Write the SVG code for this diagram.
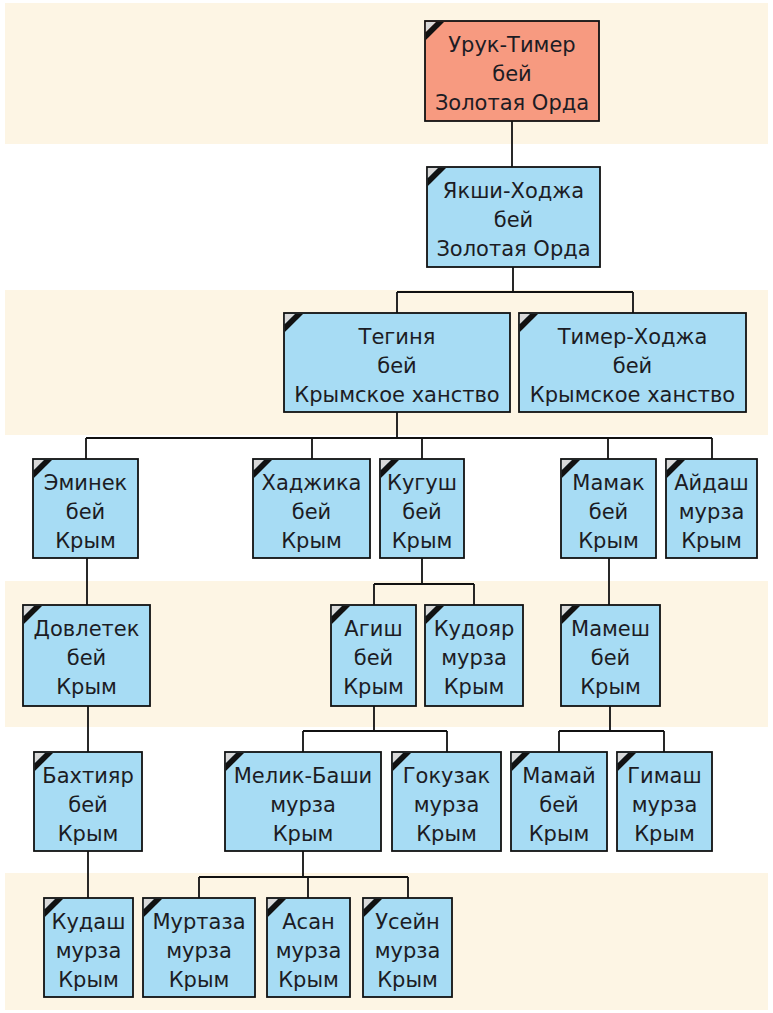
<svg xmlns="http://www.w3.org/2000/svg" width="773" height="1013" viewBox="0 0 773 1013">
<style>
.band{fill:#fdf5e4}
.n rect{fill:#a7dcf4;stroke:#111;stroke-width:1.8}
.n.root rect{fill:#f79a80}
.n text{font-family:"DejaVu Sans","Liberation Sans",sans-serif;font-size:21px;fill:#1c1c24;text-anchor:middle}
.c{fill:none;stroke:#111;stroke-width:1.8}
</style>
<defs>
<g id="mark">
<polygon points="0.9,0.9 11,0.9 0.9,11" fill="#d9d9d9"/>
<polygon points="0.9,11 11,0.9 19,0.9 0.9,19" fill="#111"/>
</g>
</defs>
<rect x="0" y="0" width="773" height="1013" fill="#ffffff"/>
<rect class="band" x="5" y="3" width="763" height="141"/>
<rect class="band" x="5" y="290" width="763" height="145"/>
<rect class="band" x="5" y="581" width="763" height="146"/>
<rect class="band" x="5" y="873" width="763" height="137"/>

<g id="connectors">
<path class="c" d="M512,121V167"/>
<path class="c" d="M513,267V292M397,292H633M397,292V313M633,292V313"/>
<path class="c" d="M397,412V438M86,438H712M86,438V459M312,438V459M422,438V459M608,438V459M712,438V459"/>
<path class="c" d="M87,558V605"/>
<path class="c" d="M422,558V584M374,584H474M374,584V605M474,584V605"/>
<path class="c" d="M609,558V605"/>
<path class="c" d="M88,706V752"/>
<path class="c" d="M374,706V731M303,731H447M303,731V752M447,731V752"/>
<path class="c" d="M610,706V731M559,731H664M559,731V752M664,731V752"/>
<path class="c" d="M88,851V898"/>
<path class="c" d="M303,851V877M199,877H408M199,877V898M308,877V898M408,877V898"/>
</g>

<g id="n-uruk" class="n root"><rect x="425" y="21" width="174" height="100"/><use href="#mark" x="425" y="21"/><text x="512" y="52">Урук-Тимер</text><text x="512" y="81">бей</text><text x="512" y="110">Золотая Орда</text></g>
<g id="n-yakshi" class="n"><rect x="427" y="167" width="173" height="100"/><use href="#mark" x="427" y="167"/><text x="513.5" y="198">Якши-Ходжа</text><text x="513.5" y="227">бей</text><text x="513.5" y="256">Золотая Орда</text></g>
<g id="n-teginya" class="n"><rect x="284" y="313" width="226" height="99"/><use href="#mark" x="284" y="313"/><text x="397" y="344">Тегиня</text><text x="397" y="373">бей</text><text x="397" y="402">Крымское ханство</text></g>
<g id="n-timer" class="n"><rect x="519" y="313" width="227" height="99"/><use href="#mark" x="519" y="313"/><text x="632.5" y="344">Тимер-Ходжа</text><text x="632.5" y="373">бей</text><text x="632.5" y="402">Крымское ханство</text></g>

<g id="n-eminek" class="n"><rect x="33" y="459" width="105" height="99"/><use href="#mark" x="33" y="459"/><text x="85.5" y="490">Эминек</text><text x="85.5" y="519">бей</text><text x="85.5" y="548">Крым</text></g>
<g id="n-hadzhika" class="n"><rect x="253" y="459" width="117" height="99"/><use href="#mark" x="253" y="459"/><text x="311.5" y="490">Хаджика</text><text x="311.5" y="519">бей</text><text x="311.5" y="548">Крым</text></g>
<g id="n-kugush" class="n"><rect x="380" y="459" width="84" height="99"/><use href="#mark" x="380" y="459"/><text x="422" y="490">Кугуш</text><text x="422" y="519">бей</text><text x="422" y="548">Крым</text></g>
<g id="n-mamak" class="n"><rect x="561" y="459" width="95" height="99"/><use href="#mark" x="561" y="459"/><text x="608.5" y="490">Мамак</text><text x="608.5" y="519">бей</text><text x="608.5" y="548">Крым</text></g>
<g id="n-aidash" class="n"><rect x="666" y="459" width="91" height="99"/><use href="#mark" x="666" y="459"/><text x="711.5" y="490">Айдаш</text><text x="711.5" y="519">мурза</text><text x="711.5" y="548">Крым</text></g>

<g id="n-dovletek" class="n"><rect x="23" y="605" width="127" height="101"/><use href="#mark" x="23" y="605"/><text x="86.5" y="636">Довлетек</text><text x="86.5" y="665">бей</text><text x="86.5" y="694">Крым</text></g>
<g id="n-agish" class="n"><rect x="331" y="605" width="85" height="101"/><use href="#mark" x="331" y="605"/><text x="373.5" y="636">Агиш</text><text x="373.5" y="665">бей</text><text x="373.5" y="694">Крым</text></g>
<g id="n-kudoyar" class="n"><rect x="425" y="605" width="98" height="101"/><use href="#mark" x="425" y="605"/><text x="474" y="636">Кудояр</text><text x="474" y="665">мурза</text><text x="474" y="694">Крым</text></g>
<g id="n-mamesh" class="n"><rect x="561" y="605" width="99" height="101"/><use href="#mark" x="561" y="605"/><text x="610.5" y="636">Мамеш</text><text x="610.5" y="665">бей</text><text x="610.5" y="694">Крым</text></g>

<g id="n-bahtiyar" class="n"><rect x="34" y="752" width="108" height="99"/><use href="#mark" x="34" y="752"/><text x="88" y="783">Бахтияр</text><text x="88" y="812">бей</text><text x="88" y="841">Крым</text></g>
<g id="n-melik" class="n"><rect x="225" y="752" width="156" height="99"/><use href="#mark" x="225" y="752"/><text x="303" y="783">Мелик-Баши</text><text x="303" y="812">мурза</text><text x="303" y="841">Крым</text></g>
<g id="n-gokuzak" class="n"><rect x="392" y="752" width="109" height="99"/><use href="#mark" x="392" y="752"/><text x="446.5" y="783">Гокузак</text><text x="446.5" y="812">мурза</text><text x="446.5" y="841">Крым</text></g>
<g id="n-mamai" class="n"><rect x="511" y="752" width="96" height="99"/><use href="#mark" x="511" y="752"/><text x="559" y="783">Мамай</text><text x="559" y="812">бей</text><text x="559" y="841">Крым</text></g>
<g id="n-gimash" class="n"><rect x="617" y="752" width="95" height="99"/><use href="#mark" x="617" y="752"/><text x="664.5" y="783">Гимаш</text><text x="664.5" y="812">мурза</text><text x="664.5" y="841">Крым</text></g>

<g id="n-kudash" class="n"><rect x="44" y="898" width="89" height="99"/><use href="#mark" x="44" y="898"/><text x="88.5" y="929">Кудаш</text><text x="88.5" y="958">мурза</text><text x="88.5" y="987">Крым</text></g>
<g id="n-murtaza" class="n"><rect x="143" y="898" width="112" height="99"/><use href="#mark" x="143" y="898"/><text x="199" y="929">Муртаза</text><text x="199" y="958">мурза</text><text x="199" y="987">Крым</text></g>
<g id="n-asan" class="n"><rect x="267" y="898" width="83" height="99"/><use href="#mark" x="267" y="898"/><text x="308.5" y="929">Асан</text><text x="308.5" y="958">мурза</text><text x="308.5" y="987">Крым</text></g>
<g id="n-usein" class="n"><rect x="363" y="898" width="89" height="99"/><use href="#mark" x="363" y="898"/><text x="407.5" y="929">Усейн</text><text x="407.5" y="958">мурза</text><text x="407.5" y="987">Крым</text></g>
</svg>
